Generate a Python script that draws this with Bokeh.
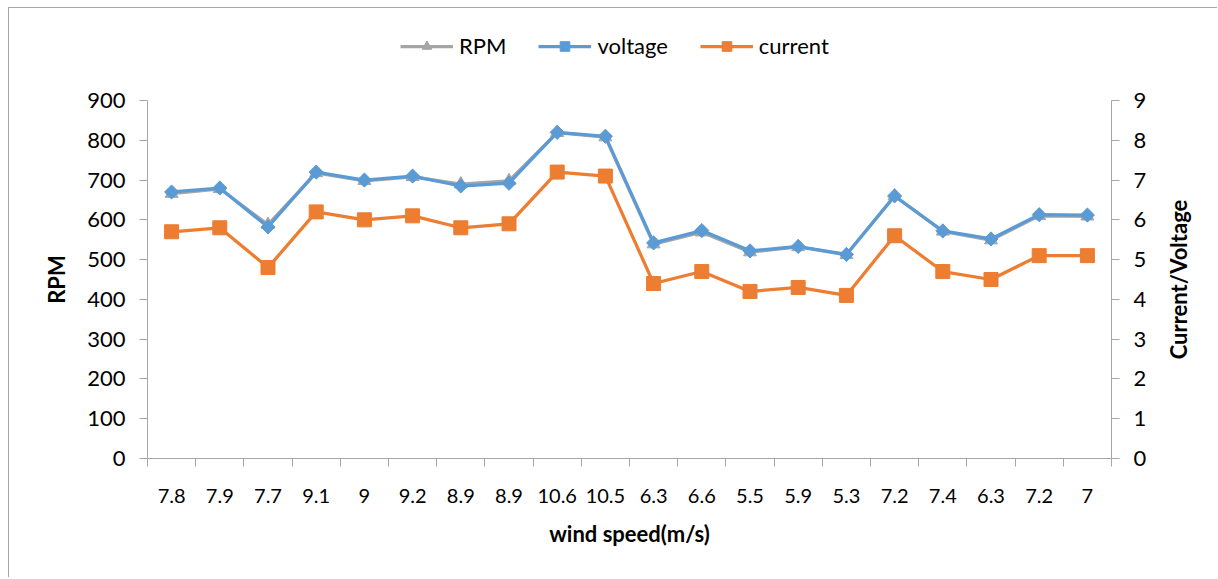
import math
from bokeh.plotting import figure
from bokeh.layouts import column, row
from bokeh.models import Range1d, LinearAxis, FixedTicker, Legend, LegendItem, ColumnDataSource, Title
from bokeh.embed import file_html
from bokeh.resources import INLINE

wind_speed = ["7.8", "7.9", "7.7", "9.1", "9", "9.2", "8.9", "8.9", "10.6", "10.5",
              "6.3", "6.6", "5.5", "5.9", "5.3", "7.2", "7.4", "6.3", "7.2", "7"]
rpm = [666, 678, 588, 718, 698, 708, 690, 698, 819, 808,
       539, 569, 519, 532, 512, 660, 571, 549, 610, 609]
voltage = [6.7, 6.8, 5.82, 7.2, 7.0, 7.1, 6.85, 6.92, 8.2, 8.1,
           5.42, 5.73, 5.22, 5.33, 5.13, 6.6, 5.72, 5.52, 6.13, 6.12]
current = [5.7, 5.8, 4.8, 6.2, 6.0, 6.1, 5.8, 5.9, 7.2, 7.1,
           4.4, 4.7, 4.2, 4.3, 4.1, 5.6, 4.7, 4.5, 5.1, 5.1]
series_names = ["RPM", "voltage", "current"]
rpm_ticks = list(range(0, 901, 100))
cv_ticks = list(range(0, 10))

idx = list(range(1, len(wind_speed) + 1))
src = ColumnDataSource(dict(x=idx, rpm=rpm, voltage=voltage, current=current))

FONT = "Lato"
AX = "#A6A6A6"
GRAY = "#A5A5A5"
BLUE = "#5B9BD5"
ORANGE = "#ED7D31"
LW = 3.25
MARKERS = [dict(marker="triangle", size=13, angle=0.0, color=GRAY),
           dict(marker="square", size=10, angle=math.pi / 4, color=BLUE),
           dict(marker="square", size=14, angle=0.0, color=ORANGE)]
FIELDS = ["rpm", "voltage", "current"]
RANGES = ["default", "right", "right"]

def draw_series(fig):
    out = []
    for fld, rng, mk in zip(FIELDS, RANGES, MARKERS):
        rl = fig.line("x", fld, source=src, line_color=mk["color"], line_width=LW, y_range_name=rng)
        rs = fig.scatter("x", fld, source=src, marker=mk["marker"], size=mk["size"], angle=mk["angle"],
                         fill_color=mk["color"], line_color=mk["color"], y_range_name=rng)
        out.append([rl, rs])
    return out

def clean(fig):
    fig.outline_line_color = None
    fig.xgrid.visible = False
    fig.ygrid.visible = False
    fig.background_fill_color = "white"
    fig.border_fill_color = "white"

# ---------------- main chart ----------------
p = figure(width=1148, height=497, output_backend="svg", toolbar_location=None,
           x_range=Range1d(0.5, len(idx) + 0.5), y_range=Range1d(rpm_ticks[0], rpm_ticks[-1]),
           min_border_left=138, min_border_right=46, min_border_top=20, min_border_bottom=119,
           x_axis_location=None, y_axis_location=None)
clean(p)
p.extra_y_ranges = {"right": Range1d(cv_ticks[0], cv_ticks[-1])}

def style_axis(ax):
    ax.axis_line_color = AX
    ax.axis_line_width = 1
    ax.major_tick_line_color = AX
    ax.minor_tick_line_color = None
    ax.major_tick_in = 0
    ax.major_tick_out = 8
    ax.major_label_text_font = FONT
    ax.major_label_text_font_size = "22px"
    ax.major_label_text_color = "#000000"
    ax.axis_label_text_font = FONT
    ax.axis_label_text_font_size = "22px"
    ax.axis_label_text_font_style = "bold"
    ax.axis_label_text_color = "#000000"

left = LinearAxis(ticker=FixedTicker(ticks=rpm_ticks), axis_label="RPM")
style_axis(left)
left.major_label_standoff = 14
left.axis_label_standoff = 14
p.add_layout(left, "left")

right = LinearAxis(y_range_name="right", ticker=FixedTicker(ticks=cv_ticks))
style_axis(right)
right.major_label_standoff = 14
p.add_layout(right, "right")

bottom = LinearAxis(ticker=FixedTicker(ticks=idx, minor_ticks=[i + 0.5 for i in range(0, len(idx) + 1)]),
                    axis_label="wind speed(m/s)")
style_axis(bottom)
bottom.major_tick_out = 0
bottom.minor_tick_line_color = AX
bottom.minor_tick_in = 0
bottom.minor_tick_out = 8
bottom.major_label_text_font_size = "20px"
bottom.major_label_standoff = 22
bottom.axis_label_standoff = 14
bottom.major_label_overrides = {i: s for i, s in zip(idx, wind_speed)}
p.add_layout(bottom, "below")

draw_series(p)

# ---------------- right-hand title strip (reads bottom-to-top, centred on the plot frame) ----------------
rf = figure(width=60, height=497, output_backend="svg", toolbar_location=None,
            x_range=Range1d(0, 1), y_range=Range1d(0, 1),
            min_border_left=0, min_border_right=0, min_border_top=20, min_border_bottom=119,
            x_axis_location=None, y_axis_location=None)
clean(rf)
rf.add_layout(Title(text="Current/Voltage", align="center", text_font=FONT, text_font_size="22px",
                    text_font_style="bold", text_color="#000000", standoff=10), "left")

# ---------------- legend strip on top (same series, viewed outside their data span) ----------------
lg = figure(width=1208, height=72, output_backend="svg", toolbar_location=None,
            x_range=Range1d(-10, -9), y_range=Range1d(-10, -9), min_border=0,
            min_border_left=138, min_border_right=106,
            x_axis_location=None, y_axis_location=None)
lg.extra_y_ranges = {"right": Range1d(-10, -9)}
clean(lg)
pairs = draw_series(lg)
items = [LegendItem(label=name, renderers=rs) for name, rs in zip(series_names, pairs)]
legend = Legend(items=items, orientation="horizontal", location=(253, 21),
                margin=0, padding=0, spacing=32, glyph_width=53, glyph_height=24,
                label_standoff=6, label_text_font=FONT, label_text_font_size="22px",
                label_text_color="#000000",
                label_height=26, border_line_color=None, background_fill_alpha=0)
lg.add_layout(legend, "center")

layout = column(lg, row(p, rf, spacing=0), spacing=0)
layout.margin = (7, 0, 0, 8)
layout.styles = {"border-left": "1px solid #A6A6A6", "border-top": "1px solid #A6A6A6"}

open("out.html", "w").write(file_html(layout, INLINE))
